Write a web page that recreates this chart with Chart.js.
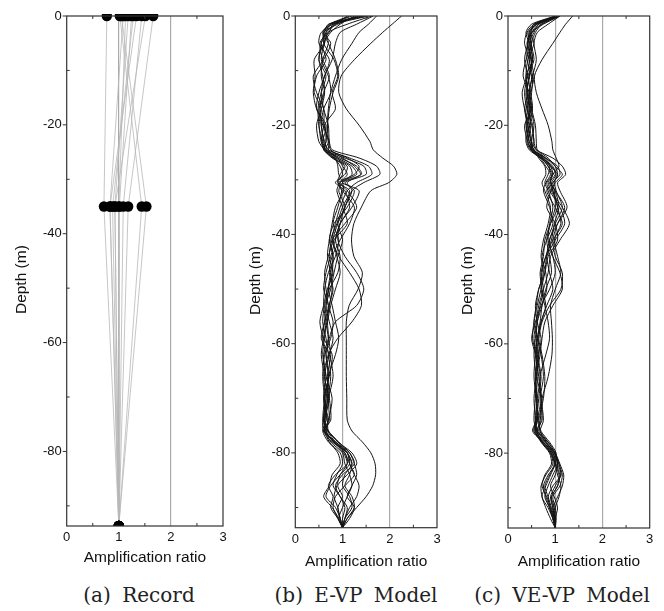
<!DOCTYPE html>
<html>
<head>
<meta charset="utf-8">
<script src="https://cdn.jsdelivr.net/npm/chart.js@4"></script>
<style>
  body { margin: 0; background: #fff; }
  #wrap { position: relative; width: 664px; height: 611px; overflow: hidden; }
  #wrap canvas { position: absolute; top: 0; }
  .cap {
    position: absolute; top: 583px; transform: translateX(-50%);
    font: 20px 'DejaVu Serif', serif; color: #222; white-space: pre; word-spacing: 5px;
  }
</style>
</head>
<body>
<div id="wrap">
  <canvas id="chartRecord" width="240" height="571" style="left:0"></canvas>
  <canvas id="chartEvp" width="214" height="575" style="left:240px"></canvas>
  <canvas id="chartVevp" width="210" height="575" style="left:454px"></canvas>
  <div class="cap" style="left:139px">(a) Record</div>
  <div class="cap" style="left:356px">(b) E-VP Model</div>
  <div class="cap" style="left:562px">(c) VE-VP Model</div>
</div>
<script>
// axes
const depthMin = -93.7;
const xTicks = [0, 1, 2, 3];
const xMinor = [0.5, 1.5, 2.5];
const yTicks = [0, -20, -40, -60, -80];
const yMinor = [-10, -30, -50, -70, -90];

// (a) recorded amplification at the surface, at -35 m and at the base
const recordDepths = [0, -35, depthMin];
const recordSurface = [0.77, 1.02, 1.05, 1.085, 1.18, 1.245, 1.34, 1.44, 1.51, 1.66, 1.13, 1.28];
const recordMid = [0.715, 1.44, 1.53, 0.83, 0.925, 1.01, 0.83, 1.085, 0.925, 1.18, 1.0, 0.88];
const recordBase = [1, 1, 1, 1, 1, 1, 1, 1, 1, 1, 1, 1];

// (b), (c) computed profiles, one row per earthquake, sampled at profileDepths
const profileDepths = [0, -1.5, -3, -5, -8, -11, -14, -17, -20, -23, -24.5, -26, -27.5, -29, -30.5, -32,
  -35, -38, -41, -44, -47, -50, -53, -56, -59, -62, -66, -70, -74, -76, -78, -80, -82, -84, -86, -88,
  -90, -92, depthMin];

const evpRatios = [
  [2.25, 2.05, 1.85, 1.6, 1.25, 0.97, 0.92, 1.08, 1.35, 1.58, 1.65, 1.85, 2.08, 2.15, 1.98, 1.6, 1.4, 1.24, 1.19, 1.24, 1.42, 1.33, 1.14, 1.08, 1.08, 1.08, 1.08, 1.09, 1.1, 1.2, 1.42, 1.6, 1.69, 1.7, 1.64, 1.5, 1.3, 1.1, 1.0],
  [1.72, 1.55, 1.35, 1.2, 0.98, 0.85, 0.75, 0.7, 0.68, 0.7, 0.75, 1.0, 1.25, 1.38, 1.1, 1.2, 1.05, 0.9, 0.8, 0.88, 0.95, 0.85, 0.75, 0.68, 0.6, 0.55, 0.62, 0.68, 0.62, 0.7, 0.92, 1.15, 1.25, 1.3, 1.2, 1.1, 1.25, 1.15, 1.0],
  [1.65, 1.3, 0.95, 0.85, 0.78, 0.62, 0.55, 0.6, 0.7, 0.72, 0.78, 1.35, 1.72, 1.79, 1.45, 1.2, 1.05, 0.95, 0.9, 1.05, 1.3, 1.45, 1.3, 0.85, 0.72, 0.65, 0.7, 0.62, 0.58, 0.6, 0.85, 1.05, 1.15, 1.25, 1.35, 1.3, 1.15, 1.05, 1.0],
  [1.62, 1.1, 0.7, 0.62, 0.55, 0.7, 0.75, 0.6, 0.55, 0.62, 0.7, 1.15, 1.55, 1.62, 1.3, 1.1, 0.95, 0.85, 0.78, 0.92, 1.15, 1.35, 1.4, 1.2, 0.9, 0.7, 0.6, 0.65, 0.6, 0.7, 0.9, 1.1, 1.2, 1.15, 1.05, 1.2, 1.25, 1.1, 1.0],
  [1.55, 0.85, 0.65, 0.6, 0.82, 0.9, 0.78, 0.85, 0.62, 0.7, 0.65, 1.05, 1.45, 1.5, 1.05, 1.25, 1.1, 0.82, 0.72, 0.8, 0.75, 0.7, 0.78, 0.85, 0.92, 0.85, 0.7, 0.68, 0.65, 0.62, 0.85, 1.15, 1.25, 1.0, 0.85, 0.95, 1.1, 1.05, 1.0],
  [1.5, 0.8, 0.72, 0.55, 0.65, 0.45, 0.4, 0.55, 0.5, 0.58, 0.65, 0.95, 1.3, 1.4, 1.0, 1.35, 1.2, 0.95, 0.85, 0.75, 0.65, 0.6, 0.7, 0.62, 0.55, 0.72, 0.8, 0.7, 0.6, 0.65, 0.8, 1.1, 1.15, 0.95, 0.75, 0.65, 0.85, 0.95, 1.0],
  [1.45, 0.75, 0.6, 0.75, 0.6, 0.38, 0.45, 0.6, 0.6, 0.55, 0.62, 0.9, 1.2, 1.3, 0.95, 1.1, 1.3, 1.05, 0.78, 0.72, 0.8, 0.68, 0.6, 0.52, 0.6, 0.78, 0.72, 0.6, 0.68, 0.7, 0.9, 1.2, 1.3, 1.1, 0.9, 1.0, 0.9, 0.95, 1.0],
  [1.4, 0.7, 0.62, 0.55, 0.5, 0.58, 0.62, 0.5, 0.55, 0.6, 0.7, 1.1, 1.35, 1.25, 0.92, 1.0, 1.25, 1.15, 0.95, 0.78, 0.72, 0.8, 0.72, 0.68, 0.7, 0.6, 0.65, 0.78, 0.7, 0.62, 0.82, 1.05, 1.1, 0.85, 0.7, 0.8, 0.75, 0.9, 1.0],
  [1.35, 0.8, 0.55, 0.5, 0.72, 0.62, 0.5, 0.45, 0.62, 0.65, 0.6, 0.85, 1.15, 1.2, 1.0, 0.92, 1.05, 0.9, 1.0, 0.9, 0.82, 0.75, 0.65, 0.72, 0.8, 0.72, 0.62, 0.72, 0.75, 0.6, 0.78, 1.1, 1.15, 1.25, 1.05, 0.85, 0.8, 0.9, 1.0],
  [1.3, 0.9, 0.6, 0.7, 0.85, 0.92, 0.8, 0.72, 0.68, 0.65, 0.62, 0.8, 1.1, 1.05, 0.85, 1.05, 1.15, 0.95, 0.85, 0.95, 0.9, 0.72, 0.62, 0.58, 0.65, 0.7, 0.75, 0.7, 0.72, 0.65, 0.75, 1.0, 1.05, 1.15, 1.2, 1.1, 1.0, 0.92, 1.0],
  [1.25, 0.95, 0.75, 0.6, 0.5, 0.65, 0.55, 0.48, 0.5, 0.55, 0.65, 0.9, 1.0, 1.1, 0.95, 0.88, 1.0, 1.1, 0.82, 0.7, 0.62, 0.65, 0.7, 0.8, 0.75, 0.62, 0.58, 0.62, 0.65, 0.58, 0.7, 0.95, 1.0, 0.88, 0.8, 0.95, 1.05, 1.0, 1.0],
  [1.2, 0.75, 0.65, 0.7, 0.58, 0.55, 0.62, 0.55, 0.45, 0.5, 0.62, 0.82, 0.95, 1.0, 0.9, 0.98, 0.9, 0.8, 0.92, 0.85, 0.7, 0.62, 0.6, 0.65, 0.7, 0.75, 0.68, 0.72, 0.62, 0.62, 0.72, 0.9, 0.95, 0.78, 0.72, 0.6, 0.78, 0.92, 1.0],
  [1.15, 0.72, 0.58, 0.62, 0.4, 0.42, 0.38, 0.45, 0.65, 0.58, 0.6, 0.78, 1.05, 0.95, 0.9, 1.15, 1.0, 0.88, 0.75, 0.8, 0.78, 0.7, 0.65, 0.62, 0.58, 0.65, 0.7, 0.65, 0.6, 0.68, 0.85, 1.1, 1.2, 1.05, 1.0, 1.15, 1.2, 1.05, 1.0],
  [1.1, 0.85, 0.68, 0.52, 0.58, 0.72, 0.6, 0.52, 0.58, 0.72, 0.7, 0.85, 0.9, 0.92, 1.0, 1.02, 0.85, 0.78, 0.72, 0.68, 0.75, 0.78, 0.72, 0.65, 0.62, 0.58, 0.65, 0.6, 0.7, 0.65, 0.82, 1.02, 1.1, 0.95, 0.88, 0.82, 0.9, 0.95, 1.0]
];

const vevpRatios = [
  [1.37, 1.22, 1.1, 0.95, 0.72, 0.56, 0.6, 0.72, 0.85, 0.93, 0.95, 1.02, 1.08, 0.95, 0.9, 1.0, 1.2, 1.05, 0.95, 1.0, 1.15, 1.12, 0.88, 0.72, 0.65, 0.62, 0.58, 0.6, 0.62, 0.58, 0.72, 0.9, 1.0, 1.08, 1.05, 0.92, 0.95, 0.98, 1.0],
  [1.1, 0.75, 0.5, 0.42, 0.5, 0.45, 0.4, 0.45, 0.42, 0.5, 0.6, 0.95, 1.15, 1.22, 1.05, 1.1, 1.25, 1.05, 0.88, 0.95, 1.1, 1.15, 0.95, 0.78, 0.72, 0.68, 0.6, 0.58, 0.55, 0.62, 0.85, 1.0, 1.08, 1.15, 1.1, 0.95, 1.0, 1.02, 1.0],
  [1.05, 0.6, 0.45, 0.5, 0.38, 0.32, 0.45, 0.5, 0.35, 0.42, 0.52, 0.8, 1.0, 1.15, 1.0, 0.92, 1.15, 1.3, 1.1, 0.9, 0.85, 0.75, 0.65, 0.6, 0.55, 0.62, 0.7, 0.65, 0.6, 0.52, 0.75, 0.95, 1.0, 0.85, 0.75, 0.8, 0.88, 0.95, 1.0],
  [1.08, 0.65, 0.55, 0.45, 0.48, 0.55, 0.48, 0.38, 0.4, 0.45, 0.55, 0.75, 0.9, 1.05, 0.95, 0.82, 1.0, 1.15, 0.95, 0.8, 0.72, 0.7, 0.78, 0.85, 0.88, 0.8, 0.68, 0.7, 0.72, 0.6, 0.78, 0.98, 1.05, 1.12, 0.95, 0.85, 0.9, 0.98, 1.0],
  [1.02, 0.55, 0.4, 0.35, 0.45, 0.4, 0.3, 0.35, 0.45, 0.5, 0.48, 0.7, 0.85, 0.95, 0.85, 0.9, 0.82, 1.0, 1.05, 0.85, 0.78, 0.65, 0.6, 0.55, 0.62, 0.7, 0.75, 0.68, 0.7, 0.65, 0.8, 1.0, 1.1, 1.18, 1.15, 1.05, 0.95, 1.0, 1.0],
  [1.0, 0.6, 0.48, 0.55, 0.42, 0.38, 0.42, 0.48, 0.4, 0.38, 0.45, 0.68, 0.8, 0.9, 0.8, 0.75, 0.88, 0.95, 0.82, 0.72, 0.8, 0.82, 0.72, 0.62, 0.58, 0.55, 0.6, 0.72, 0.68, 0.62, 0.72, 0.9, 0.95, 0.8, 0.7, 0.72, 0.8, 0.9, 1.0],
  [1.06, 0.7, 0.52, 0.4, 0.5, 0.45, 0.38, 0.42, 0.48, 0.42, 0.5, 0.72, 0.95, 1.0, 0.88, 0.95, 1.05, 0.9, 0.78, 0.75, 0.68, 0.72, 0.8, 0.7, 0.65, 0.72, 0.78, 0.75, 0.65, 0.7, 0.88, 1.02, 1.0, 0.9, 0.8, 0.72, 0.85, 0.95, 1.0],
  [1.1, 0.62, 0.42, 0.48, 0.55, 0.42, 0.35, 0.4, 0.5, 0.55, 0.5, 0.7, 0.88, 0.85, 0.78, 0.85, 0.95, 0.88, 0.85, 0.95, 1.0, 0.88, 0.7, 0.58, 0.5, 0.58, 0.62, 0.6, 0.62, 0.55, 0.75, 0.95, 1.05, 1.0, 0.9, 0.98, 1.05, 1.0, 1.0],
  [1.04, 0.58, 0.45, 0.42, 0.4, 0.5, 0.45, 0.42, 0.38, 0.45, 0.55, 0.65, 0.78, 0.8, 0.72, 0.78, 0.9, 0.85, 0.75, 0.7, 0.75, 0.65, 0.58, 0.62, 0.7, 0.65, 0.58, 0.62, 0.6, 0.58, 0.7, 0.88, 0.92, 0.78, 0.72, 0.82, 0.9, 0.96, 1.0],
  [1.0, 0.5, 0.38, 0.45, 0.52, 0.38, 0.42, 0.35, 0.42, 0.48, 0.52, 0.75, 0.9, 0.95, 0.82, 0.88, 1.1, 1.2, 1.0, 0.82, 0.78, 0.7, 0.62, 0.55, 0.52, 0.6, 0.68, 0.62, 0.58, 0.62, 0.8, 0.95, 1.02, 1.1, 1.05, 0.92, 0.98, 1.0, 1.0],
  [1.08, 0.72, 0.58, 0.5, 0.45, 0.52, 0.5, 0.45, 0.52, 0.55, 0.6, 0.8, 1.05, 1.1, 0.95, 0.98, 1.0, 0.9, 0.82, 0.88, 0.92, 0.8, 0.72, 0.68, 0.62, 0.58, 0.55, 0.6, 0.65, 0.68, 0.85, 1.0, 1.05, 0.95, 0.85, 0.78, 0.88, 0.95, 1.0],
  [1.02, 0.55, 0.48, 0.42, 0.35, 0.42, 0.48, 0.52, 0.45, 0.4, 0.48, 0.72, 0.85, 0.92, 0.9, 1.0, 1.08, 0.98, 0.92, 0.8, 0.7, 0.75, 0.68, 0.62, 0.6, 0.65, 0.6, 0.55, 0.58, 0.55, 0.72, 0.92, 1.0, 1.05, 1.12, 1.08, 1.0, 0.98, 1.0],
  [1.06, 0.65, 0.5, 0.48, 0.52, 0.46, 0.4, 0.48, 0.55, 0.5, 0.55, 0.78, 0.92, 1.02, 0.92, 0.95, 1.05, 1.12, 0.98, 1.05, 1.12, 1.0, 0.9, 0.92, 0.94, 0.93, 0.85, 0.72, 0.62, 0.6, 0.75, 0.92, 0.98, 0.88, 0.78, 0.85, 0.92, 0.98, 1.0],
  [1.1, 0.85, 0.62, 0.55, 0.6, 0.52, 0.45, 0.5, 0.58, 0.6, 0.62, 0.85, 1.0, 1.05, 0.98, 1.02, 1.15, 1.0, 0.88, 0.82, 0.88, 0.95, 0.82, 0.7, 0.62, 0.6, 0.65, 0.7, 0.75, 0.68, 0.82, 0.98, 1.08, 1.12, 1.0, 0.9, 0.95, 1.0, 1.0]
];

const sansFont = 'Liberation Sans, Arial, sans-serif';

// box round the plot, outward major ticks on the depth axis, inward minor ticks
const framePlugin = {
  id: 'frame',
  afterDraw(chart) {
    const { ctx, chartArea: a, scales: { x, y } } = chart;
    ctx.save();
    ctx.strokeStyle = '#333';
    ctx.lineWidth = 1.2;
    ctx.strokeRect(a.left, a.top, a.right - a.left, a.bottom - a.top);
    ctx.lineWidth = 1;
    ctx.beginPath();
    yTicks.forEach((v) => {
      const py = y.getPixelForValue(v);
      ctx.moveTo(a.left - 4, py);
      ctx.lineTo(a.left, py);
    });
    yMinor.forEach((v) => {
      const py = y.getPixelForValue(v);
      ctx.moveTo(a.left, py);
      ctx.lineTo(a.left + 3, py);
    });
    xMinor.forEach((v) => {
      const px = x.getPixelForValue(v);
      ctx.moveTo(px, a.bottom);
      ctx.lineTo(px, a.bottom - 3);
      ctx.moveTo(px, a.top);
      ctx.lineTo(px, a.top + 3);
    });
    ctx.stroke();
    ctx.restore();
  },
};

function profileSets(rows) {
  return rows.map((r) => ({
    data: profileDepths.map((d, i) => ({ x: r[i], y: d })),
    showLine: true,
    borderColor: '#151515',
    borderWidth: 1,
    pointRadius: 0,
    tension: 0.25,
  }));
}

function recordSets() {
  const lines = recordSurface.map((s, i) => ({
    data: [recordSurface[i], recordMid[i], recordBase[i]].map((v, k) => ({ x: v, y: recordDepths[k] })),
    showLine: true,
    borderColor: '#b8b8b8',
    borderWidth: 0.8,
    pointRadius: 0,
    order: 2,
  }));
  const dots = [recordSurface, recordMid, recordBase].flatMap((arr, k) => arr.map((v) => ({ x: v, y: recordDepths[k] })));
  lines.push({
    data: dots,
    showLine: false,
    pointRadius: 5.2,
    pointBackgroundColor: '#000',
    pointBorderWidth: 0,
    clip: { top: 2, bottom: 0, left: false, right: false },
    order: 0,
  });
  return lines;
}

function makeChart(id, datasets, o) {
  return new Chart(document.getElementById(id), {
    type: 'scatter',
    data: { datasets },
    plugins: [framePlugin],
    options: {
      responsive: false,
      animation: false,
      events: [],
      layout: { padding: { top: 16, right: o.rightPad, left: 0, bottom: 0 } },
      plugins: { legend: { display: false }, tooltip: { enabled: false } },
      scales: {
        x: {
          type: 'linear',
          min: 0,
          max: 3,
          afterBuildTicks: (s) => { s.ticks = xTicks.map((v) => ({ value: v })); },
          afterFit: (s) => { s.height = o.xHeight; },
          border: { display: false },
          grid: {
            drawTicks: false,
            lineWidth: 1.2,
            color: (c) => (c.tick && (c.tick.value === 1 || c.tick.value === 2) ? '#aaaaaa' : 'rgba(0,0,0,0)'),
          },
          ticks: { padding: 4, color: '#111', maxRotation: 0, font: { family: sansFont, size: 13 } },
          title: {
            display: true,
            text: 'Amplification ratio',
            color: '#111',
            font: { family: sansFont, size: 15.5 },
            padding: { top: 0, bottom: 3.7 },
          },
        },
        y: {
          type: 'linear',
          min: depthMin,
          max: 0,
          afterBuildTicks: (s) => { s.ticks = yTicks.map((v) => ({ value: v })); },
          afterFit: (s) => { s.width = o.yWidth; },
          border: { display: false },
          grid: { display: false, drawTicks: false },
          ticks: { padding: 5, color: '#111', font: { family: sansFont, size: 13 } },
          title: {
            display: true,
            text: 'Depth (m)    ',
            color: '#111',
            font: { family: sansFont, size: 15.5 },
            padding: { top: o.titleLeft, bottom: 0 },
          },
        },
      },
    },
  });
}

makeChart('chartRecord', recordSets(), { rightPad: 17, xHeight: 45, yWidth: 66.7, titleLeft: 12.4 });
makeChart('chartEvp', profileSets(evpRatios), { rightPad: 17, xHeight: 47.3, yWidth: 55.3, titleLeft: 6.5 });
makeChart('chartVevp', profileSets(vevpRatios), { rightPad: 14.3, xHeight: 47, yWidth: 54, titleLeft: 4.7 });
</script>
</body>
</html>
